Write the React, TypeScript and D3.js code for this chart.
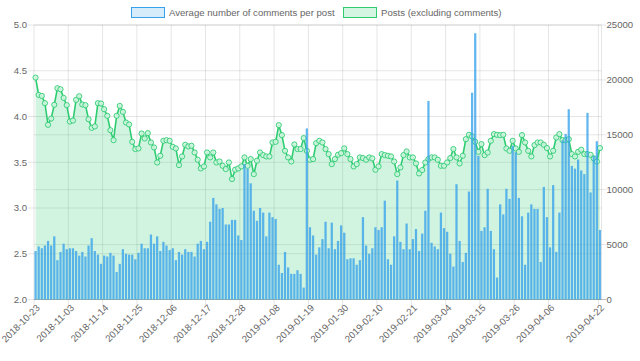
import React from 'react';
import * as d3 from 'd3';

// daily categories, 2018-10-23 .. 2019-04-22
const parseDay = d3.timeParse('%Y-%m-%d');
const fmtDay = d3.timeFormat('%Y-%m-%d');
const days = d3.timeDay
  .range(parseDay('2018-10-23') as Date, d3.timeDay.offset(parseDay('2019-04-22') as Date, 1))
  .map(fmtDay);

// average number of comments per post (left axis)
const avgComments = [
  2.53, 2.58, 2.56, 2.59, 2.64, 2.59, 2.69, 2.43, 2.52, 2.61,
  2.55, 2.56, 2.56, 2.53, 2.48, 2.52, 2.47, 2.59, 2.67, 2.53,
  2.49, 2.39, 2.48, 2.47, 2.51, 2.48, 2.3, 2.39, 2.55, 2.5,
  2.49, 2.49, 2.44, 2.51, 2.61, 2.56, 2.56, 2.71, 2.61, 2.69,
  2.53, 2.63, 2.59, 2.54, 2.56, 2.43, 2.52, 2.49, 2.55, 2.52,
  2.52, 2.47, 2.61, 2.64, 2.55, 2.63, 2.85, 3.11, 3.04, 2.99,
  3.0, 2.82, 2.82, 2.87, 2.87, 2.7, 2.65, 3.48, 3.43, 3.27,
  2.97, 2.86, 3.0, 2.95, 2.69, 2.95, 2.9, 2.88, 2.38, 2.29,
  2.52, 2.35, 2.28, 2.28, 2.32, 2.28, 2.13, 3.87, 2.79, 2.7,
  2.49, 2.57, 2.66, 2.85, 2.56, 2.84, 2.55, 2.64, 2.81, 2.73,
  2.44, 2.45, 2.45, 2.38, 2.43, 2.9, 2.59, 2.5, 2.56, 2.79,
  2.76, 2.79, 3.08, 2.44, 2.38, 2.69, 3.3, 2.63, 2.55, 2.83,
  2.55, 2.66, 2.77, 2.53, 2.72, 2.97, 4.17, 2.62, 2.58, 2.55,
  2.95, 2.78, 2.74, 2.5, 2.36, 3.26, 2.64, 2.41, 2.51, 3.18,
  4.26, 4.91, 3.57, 2.75, 2.79, 3.21, 2.75, 2.55, 2.24, 3.04,
  2.93, 3.21, 3.1, 3.68, 3.61, 3.11, 2.91, 2.38, 2.95, 3.04,
  2.99, 2.99, 2.41, 3.23, 2.9, 2.57, 3.25, 2.52, 2.95, 3.74,
  3.81, 4.08, 3.46, 3.43, 3.53, 3.41, 3.37, 4.04, 3.17, 3.57,
  3.73, 2.76,
];

// posts excluding comments (right axis)
const posts = [
  20210, 18630, 18540, 17880, 15910, 16480, 17730, 19240, 19150, 18360,
  17700, 16210, 16300, 18180, 18510, 17760, 17700, 16420, 15630, 15760,
  17880, 17850, 17330, 16730, 15420, 14510, 16730, 17630, 17090, 16120,
  15940, 14360, 13700, 13760, 15120, 14670, 15150, 14300, 13850, 12480,
  13090, 14450, 14510, 14450, 13910, 13760, 12240, 13030, 14090, 13940,
  14000, 13390, 12730, 11940, 12120, 13390, 12940, 13390, 12480, 12570,
  12180, 11880, 12480, 10970, 11820, 11940, 12120, 12940, 12180, 12790,
  11420, 12640, 13390, 13150, 13030, 13030, 14300, 14360, 15880, 14970,
  13540, 12940, 12570, 14120, 13700, 13700, 14700, 13540, 12730, 12790,
  14240, 14450, 14300, 13700, 13240, 12330, 12790, 13180, 13330, 13760,
  13240, 12790, 12120, 12330, 12940, 12880, 12730, 12940, 12850, 11820,
  12120, 13240, 13150, 13090, 13030, 12570, 11420, 12030, 13150, 13480,
  12940, 12940, 12390, 11480, 11790, 12480, 12790, 12940, 12940, 12730,
  12180, 12180, 12480, 12880, 13700, 12940, 12390, 13090, 14600, 15000,
  14850, 14360, 13450, 14150, 13150, 13390, 14450, 15060, 15000, 14970,
  15000, 13760, 13540, 14450, 13760, 13450, 14970, 14300, 13540, 13030,
  14060, 14300, 14300, 14090, 13790, 13030, 13545, 14755, 15060, 14515,
  14515, 14600, 13245, 13030, 13450, 13640, 13245, 13245, 13180, 12850,
  12570, 13790,
];

const xTickLabels = [
  '2018-10-23', '2018-11-03', '2018-11-14', '2018-11-25', '2018-12-06',
  '2018-12-17', '2018-12-28', '2019-01-08', '2019-01-19', '2019-01-30',
  '2019-02-10', '2019-02-21', '2019-03-04', '2019-03-15', '2019-03-26',
  '2019-04-06', '2019-04-22',
];
const leftTicks = [2.0, 2.5, 3.0, 3.5, 4.0, 4.5, 5.0];
const rightTicks = [0, 5000, 10000, 15000, 20000, 25000];

const legendItems = ['Average number of comments per post', 'Posts (excluding comments)'];

const W = 640;
const H = 361;
const left = 34;
const right = 601.5;
const top = 25;
const bottom = 299.5;
const FONT = '"Liberation Sans", Arial, Helvetica, sans-serif';
const FS = 9.6;

const blue = 'rgb(54,162,235)';
const green = 'rgb(46,204,113)';
const grid = 'rgba(0,0,0,0.1)';

export default function App() {
  const x = d3
    .scaleBand<string>()
    .domain(days)
    .range([left, right])
    .paddingInner(0.28)
    .paddingOuter(0.14);
  const step = x.step();
  const cx = (d: string) => (x(d) as number) + x.bandwidth() / 2;
  const boundary = (d: string) => (x(d) as number) - step * 0.14;

  const yL = d3.scaleLinear().domain([2, 5]).range([bottom, top]);
  const yR = d3.scaleLinear().domain([0, 25000]).range([bottom, top]);

  const area = d3
    .area<number>()
    .x((_, i) => cx(days[i]))
    .y0(bottom)
    .y1((d) => yR(d));
  const line = d3
    .line<number>()
    .x((_, i) => cx(days[i]))
    .y((d) => yR(d));

  const legendX = [131, 343];

  return (
    <svg width={W} height={H} style={{ position: 'absolute', left: 0, top: 0 }} fontFamily={FONT}>
      <rect width={W} height={H} fill="#fff" />

      {/* legend */}
      {legendItems.map((t, i) => (
        <g key={t}>
          <rect
            x={legendX[i] + 0.5}
            y={7.5}
            width={33}
            height={10}
            fill={i === 0 ? 'rgba(54,162,235,0.2)' : 'rgba(46,204,113,0.2)'}
            stroke={i === 0 ? blue : green}
            strokeWidth={1}
          />
          <text x={legendX[i] + 38} y={16.3} fontSize={FS} fill="#666">
            {t}
          </text>
        </g>
      ))}

      {/* horizontal grid */}
      {leftTicks.map((v) => (
        <line key={'l' + v} x1={left - 6} x2={right} y1={yL(v)} y2={yL(v)} stroke={grid} />
      ))}
      {rightTicks.map((v) => (
        <line
          key={'r' + v}
          x1={left}
          x2={right + 5}
          y1={yR(v)}
          y2={yR(v)}
          stroke={v === 0 ? 'rgba(0,0,0,0.25)' : grid}
        />
      ))}

      {/* vertical grid + x ticks */}
      {xTickLabels.map((t) => (
        <line
          key={'v' + t}
          x1={boundary(t)}
          x2={boundary(t)}
          y1={top}
          y2={bottom + 6}
          stroke={grid}
        />
      ))}
      <line x1={right} x2={right} y1={top} y2={bottom} stroke={grid} />

      {/* posts area + line */}
      <path d={area(posts) as string} fill="rgba(46,204,113,0.22)" />
      <path d={line(posts) as string} fill="none" stroke={green} strokeWidth={1.6} />
      {posts.map((p, i) => (
        <circle
          key={'p' + i}
          cx={cx(days[i])}
          cy={yR(p)}
          r={2.6}
          fill="rgba(210,245,226,0.9)"
          stroke={green}
          strokeWidth={0.9}
        />
      ))}

      {/* comments bars */}
      {avgComments.map((v, i) => (
        <rect
          key={'b' + i}
          x={x(days[i])}
          y={yL(v)}
          width={x.bandwidth()}
          height={bottom - yL(v)}
          fill={blue}
          fillOpacity={0.78}
        />
      ))}

      {/* left axis labels */}
      {leftTicks.map((v) => (
        <text
          key={'lt' + v}
          x={left - 7}
          y={yL(v)}
          dy="0.35em"
          textAnchor="end"
          fontSize={FS}
          fill="#666"
        >
          {v.toFixed(1)}
        </text>
      ))}
      {/* right axis labels */}
      {rightTicks.map((v) => (
        <text key={'rt' + v} x={right + 5} y={yR(v)} dy="0.35em" fontSize={FS} fill="#666">
          {v}
        </text>
      ))}
      {/* x labels */}
      {xTickLabels.map((t) => (
        <text
          key={'xt' + t}
          transform={`translate(${cx(t) + 2.5},${bottom + 6.5}) rotate(-45)`}
          textAnchor="end"
          fontSize={FS}
          fill="#666"
          dy="0.35em"
        >
          {t}
        </text>
      ))}
    </svg>
  );
}
